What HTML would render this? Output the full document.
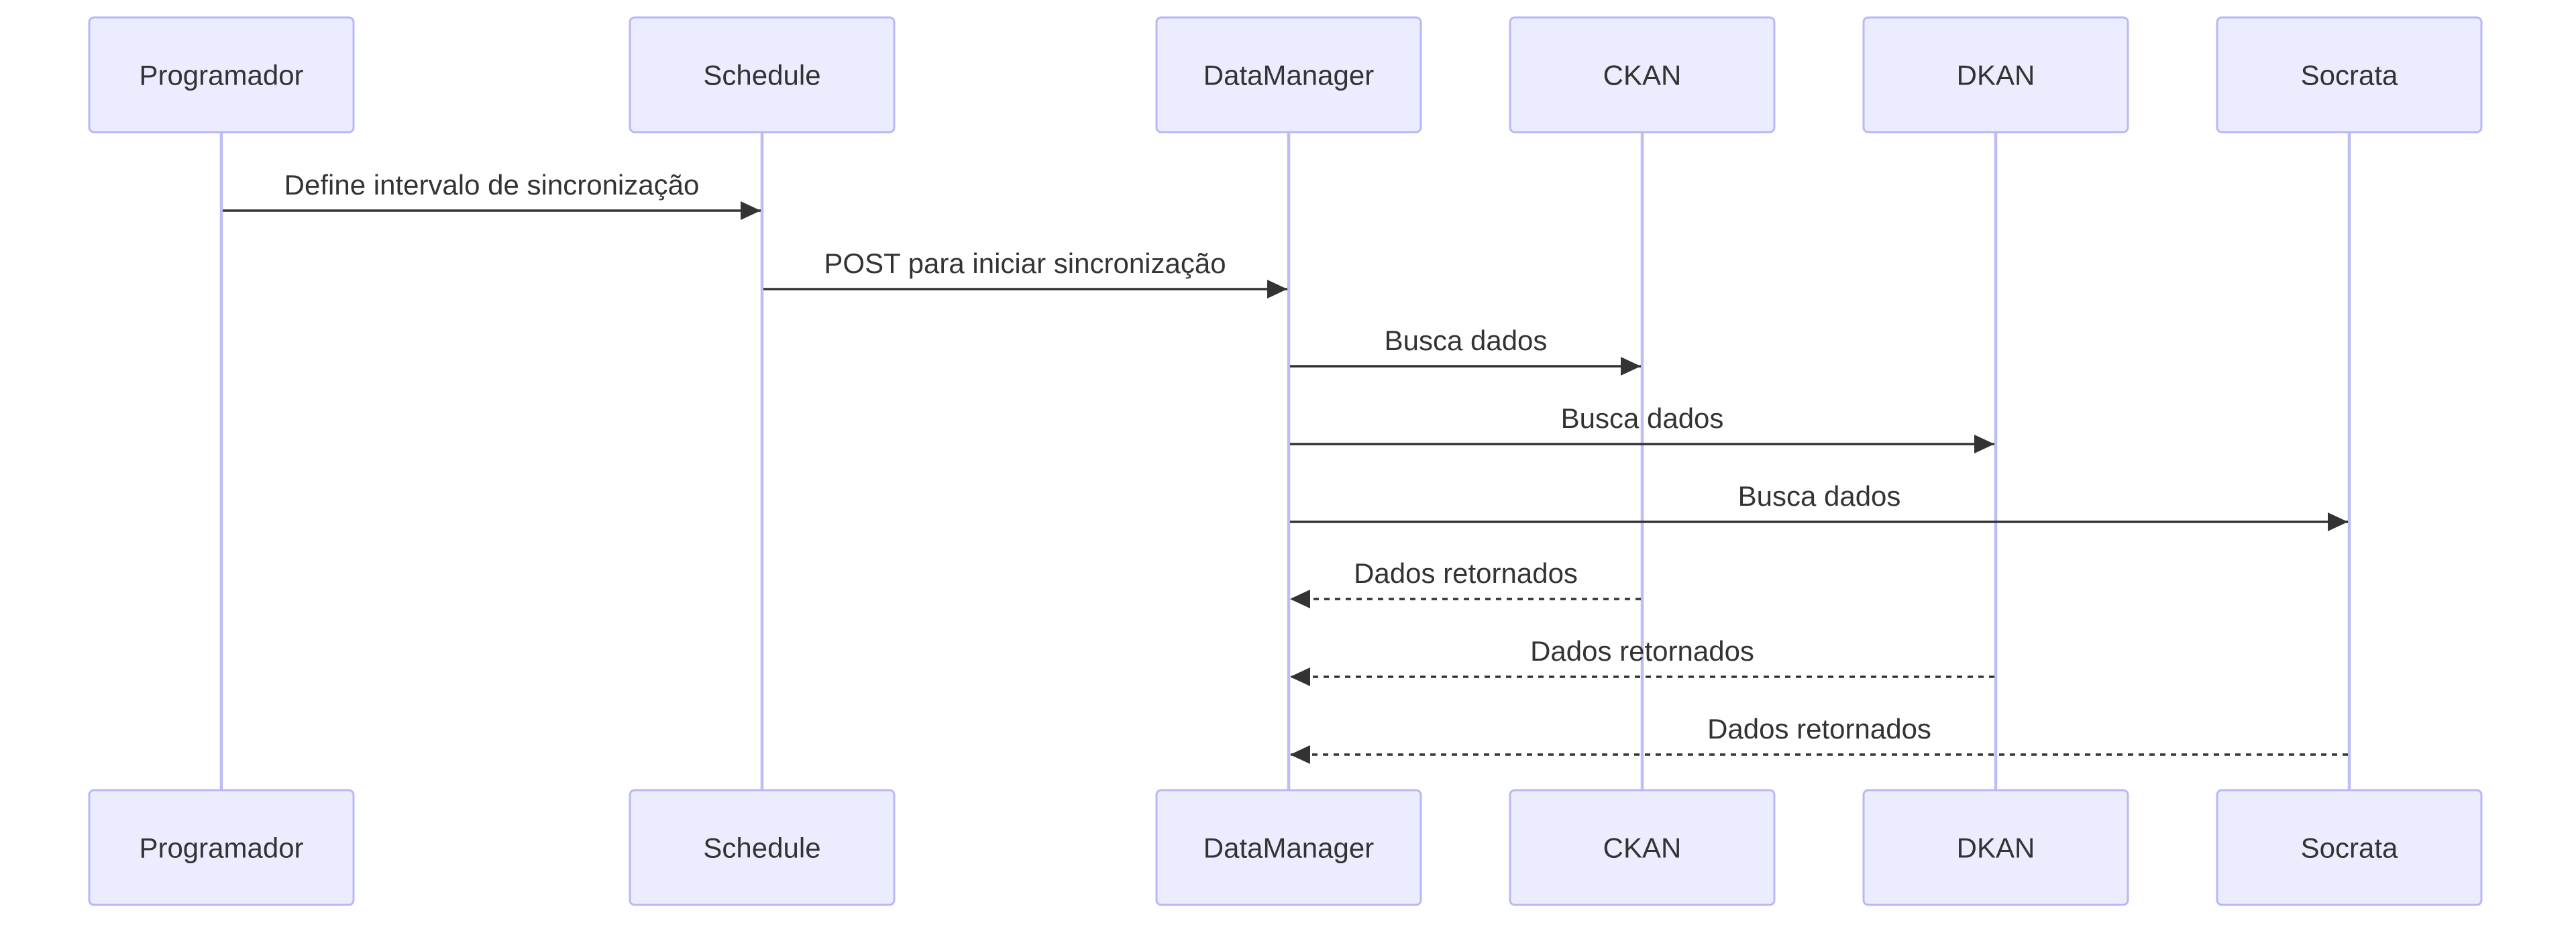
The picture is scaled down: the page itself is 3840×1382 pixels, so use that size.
<!DOCTYPE html>
<html><head><meta charset="utf-8"><style>
html,body{margin:0;padding:0;background:#fff;}
svg{display:block;}
text{font-family:"Liberation Sans",Arial,sans-serif;fill:#333;}
</style></head><body>
<svg width="3840" height="1382" viewBox="0 0 3840 1382" xmlns="http://www.w3.org/2000/svg">
<defs>
<marker id="ah" markerUnits="userSpaceOnUse" markerWidth="30" markerHeight="28" refX="30" refY="14" orient="auto">
<path d="M0,0 L30,14 L0,28 z" fill="#333"/>
</marker>
</defs>
<g stroke="#bdbdf5" stroke-width="4.5">
<line x1="330" y1="197" x2="330" y2="1180"/>
<line x1="1136" y1="197" x2="1136" y2="1180"/>
<line x1="1921" y1="197" x2="1921" y2="1180"/>
<line x1="2448" y1="197" x2="2448" y2="1180"/>
<line x1="2975" y1="197" x2="2975" y2="1180"/>
<line x1="3502" y1="197" x2="3502" y2="1180"/>
</g>
<g fill="#ececff" stroke="#b8b8f8" stroke-width="3">
<rect x="133" y="26" width="394" height="171" rx="7"/>
<rect x="939" y="26" width="394" height="171" rx="7"/>
<rect x="1724" y="26" width="394" height="171" rx="7"/>
<rect x="2251" y="26" width="394" height="171" rx="7"/>
<rect x="2778" y="26" width="394" height="171" rx="7"/>
<rect x="3305" y="26" width="394" height="171" rx="7"/>
<rect x="133" y="1178" width="394" height="171" rx="7"/>
<rect x="939" y="1178" width="394" height="171" rx="7"/>
<rect x="1724" y="1178" width="394" height="171" rx="7"/>
<rect x="2251" y="1178" width="394" height="171" rx="7"/>
<rect x="2778" y="1178" width="394" height="171" rx="7"/>
<rect x="3305" y="1178" width="394" height="171" rx="7"/>
</g>
<g font-size="42" text-anchor="middle" dominant-baseline="central">
<text x="330" y="112">Programador</text>
<text x="1136" y="112">Schedule</text>
<text x="1921" y="112">DataManager</text>
<text x="2448" y="112">CKAN</text>
<text x="2975" y="112">DKAN</text>
<text x="3502" y="112">Socrata</text>
<text x="330" y="1264">Programador</text>
<text x="1136" y="1264">Schedule</text>
<text x="1921" y="1264">DataManager</text>
<text x="2448" y="1264">CKAN</text>
<text x="2975" y="1264">DKAN</text>
<text x="3502" y="1264">Socrata</text>
</g>
<g stroke="#333" stroke-width="3.5" fill="none">
<line x1="332" y1="314" x2="1134" y2="314" marker-end="url(#ah)"/>
<line x1="1138" y1="431" x2="1919" y2="431" marker-end="url(#ah)"/>
<line x1="1923" y1="546" x2="2446" y2="546" marker-end="url(#ah)"/>
<line x1="1923" y1="662" x2="2973" y2="662" marker-end="url(#ah)"/>
<line x1="1923" y1="778" x2="3500" y2="778" marker-end="url(#ah)"/>
<line x1="2446" y1="893" x2="1923" y2="893" stroke-dasharray="8,8" marker-end="url(#ah)"/>
<line x1="2973" y1="1009" x2="1923" y2="1009" stroke-dasharray="8,8" marker-end="url(#ah)"/>
<line x1="3500" y1="1125" x2="1923" y2="1125" stroke-dasharray="8,8" marker-end="url(#ah)"/>
</g>
<g font-size="42" text-anchor="middle">
<text x="733" y="290">Define intervalo de sincronização</text>
<text x="1528" y="407">POST para iniciar sincronização</text>
<text x="2185" y="522">Busca dados</text>
<text x="2448" y="638">Busca dados</text>
<text x="2712" y="754">Busca dados</text>
<text x="2185" y="869">Dados retornados</text>
<text x="2448" y="985">Dados retornados</text>
<text x="2712" y="1101">Dados retornados</text>
</g>
</svg>
</body></html>
